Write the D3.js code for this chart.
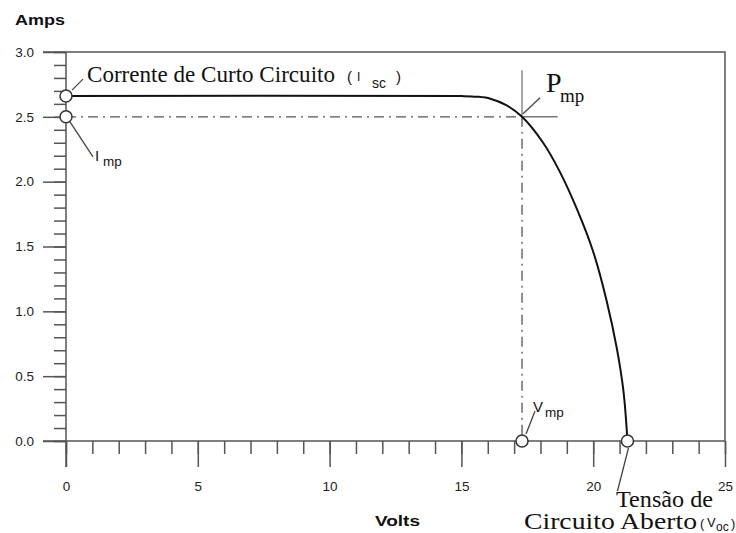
<!DOCTYPE html>
<html><head><meta charset="utf-8">
<script src="https://cdn.jsdelivr.net/npm/d3@7"></script>
<style>body{margin:0;background:#fff}svg{display:block}</style>
</head><body>
<svg id="chart" width="736" height="533"></svg>
<script>
// ---- data ----
const volts = [0, 15.0, 15.6, 16.1, 16.7, 17.3, 18.1, 18.75, 19.4, 20.0, 20.5, 20.9, 21.15, 21.3];
const amps  = [2.66, 2.66, 2.655, 2.64, 2.59, 2.5, 2.30, 2.07, 1.78, 1.46, 1.09, 0.71, 0.38, 0];
const xMajorTicks = [0, 5, 10, 15, 20, 25];
const yMajorTicks = [0.0, 0.5, 1.0, 1.5, 2.0, 2.5, 3.0];
const Isc = 2.66, Imp = 2.5, Vmp = 17.3, Voc = 21.3;

const svg = d3.select("#chart");
const x = d3.scaleLinear().domain([0, 25]).range([66, 725]);
const y = d3.scaleLinear().domain([0, 3]).range([441, 52]);
const axisColor = "#555";
const sans = "'Liberation Sans', Arial, sans-serif";
const serif = "'Liberation Serif', 'Times New Roman', serif";

// frame (top and right)
svg.append("path")
  .attr("d", `M${x(0)-23},${y(3)}H${x(25)}V${y(0)}`)
  .attr("fill", "none").attr("stroke", axisColor).attr("stroke-width", 1.5);

// x axis minor
const xMinor = d3.range(0, 26, 1);
svg.append("g").attr("transform", `translate(0,${y(0)})`)
  .call(d3.axisBottom(x).tickValues(xMinor).tickSize(13).tickFormat(""))
  .call(g => g.select(".domain").remove())
  .selectAll("line").attr("stroke", axisColor).attr("stroke-width", 1.5);
// x axis major
const gx = svg.append("g").attr("transform", `translate(0,${y(0)})`)
  .call(d3.axisBottom(x).tickValues(xMajorTicks).tickSize(26).tickPadding(14).tickFormat(d3.format("d")));
gx.select(".domain").remove();
gx.selectAll("line").attr("stroke", axisColor).attr("stroke-width", 1.5);
gx.selectAll("text").attr("font-family", sans).attr("font-size", 13.5).attr("fill", "#222");

// y axis minor
const yMinor = d3.range(0, 31).map(d => d / 10);
svg.append("g").attr("transform", `translate(${x(0)},0)`)
  .call(d3.axisLeft(y).tickValues(yMinor).tickSize(12).tickFormat(""))
  .call(g => g.select(".domain").remove())
  .selectAll("line").attr("stroke", axisColor).attr("stroke-width", 1.5);
const gy = svg.append("g").attr("transform", `translate(${x(0)},0)`)
  .call(d3.axisLeft(y).tickValues(yMajorTicks).tickSize(23).tickPadding(9).tickFormat(d3.format(".1f")));
gy.select(".domain").remove();
gy.selectAll("line").attr("stroke", axisColor).attr("stroke-width", 1.5);
gy.selectAll("text").attr("font-family", sans).attr("font-size", 13.5).attr("fill", "#222");

// axis lines
svg.append("line").attr("x1", x(0)-23).attr("x2", x(25)).attr("y1", y(0)).attr("y2", y(0))
  .attr("stroke", axisColor).attr("stroke-width", 1.5);
svg.append("line").attr("x1", x(0)).attr("x2", x(0)).attr("y1", y(3)).attr("y2", y(0)+26)
  .attr("stroke", axisColor).attr("stroke-width", 1.5);

// dash-dot reference lines
svg.append("line").attr("x1", x(0)).attr("x2", x(Vmp)).attr("y1", y(Imp)).attr("y2", y(Imp))
  .attr("stroke", "#555").attr("stroke-width", 1.3).attr("stroke-dasharray", "10,5,2,5");
svg.append("line").attr("x1", x(Vmp)).attr("x2", x(Vmp)).attr("y1", y(Imp)).attr("y2", y(0))
  .attr("stroke", "#555").attr("stroke-width", 1.3).attr("stroke-dasharray", "10,5,2,5");
// crosshair at Pmp
svg.append("line").attr("x1", x(Vmp)).attr("x2", x(18.65)).attr("y1", y(Imp)).attr("y2", y(Imp))
  .attr("stroke", "#777").attr("stroke-width", 1.5);
svg.append("line").attr("x1", x(Vmp)).attr("x2", x(Vmp)).attr("y1", y(2.86)).attr("y2", y(Imp))
  .attr("stroke", "#888").attr("stroke-width", 1.5);

// IV curve
const pts = volts.map((v, i) => [v, amps[i]]);
svg.append("path").datum(pts)
  .attr("d", d3.line().x(d => x(d[0])).y(d => y(d[1])).curve(d3.curveCatmullRom.alpha(0.5)))
  .attr("fill", "none").attr("stroke", "#111").attr("stroke-width", 2);

// leaders
const leader = (x1, y1, x2, y2) => svg.append("line")
  .attr("x1", x1).attr("y1", y1).attr("x2", x2).attr("y2", y2)
  .attr("stroke", "#444").attr("stroke-width", 1.3);
leader(x(0)+6, y(Isc)-6, x(0)+17, y(Isc)-17);
leader(x(0)+4, y(Imp)+5, x(0)+27, y(Imp)+40);
leader(x(Vmp)+1, y(Imp)-3, x(Vmp)+18, y(Imp)-19);
leader(x(Vmp)+4, y(0)-7, x(Vmp)+13, y(0)-30);
leader(x(Voc)+1, y(0)+7, x(Voc)-10, y(0)+50);

// circles
[[0, Isc], [0, Imp], [Vmp, 0], [Voc, 0]].forEach(d => {
  svg.append("circle").attr("cx", x(d[0])).attr("cy", y(d[1])).attr("r", 6)
    .attr("fill", "#fff").attr("stroke", "#333").attr("stroke-width", 1.5);
});

// texts
function txt(xp, yp, s, font, size, opts = {}) {
  const t = svg.append("text").attr("x", xp).attr("y", yp).text(s)
    .attr("font-family", font).attr("font-size", size).attr("fill", opts.fill || "#111")
    .attr("font-weight", opts.weight || "normal").attr("text-anchor", opts.anchor || "start");
  if (opts.len) t.attr("textLength", opts.len).attr("lengthAdjust", "spacingAndGlyphs");
  return t;
}
txt(15, 25, "Amps", sans, 15, {weight: "bold", len: 50});
txt(375, 526, "Volts", sans, 15, {weight: "bold", len: 45});

txt(87, 82, "Corrente de Curto Circuito", serif, 22.5, {len: 248});
txt(347, 82, "(", sans, 15);
txt(357, 81, "I", sans, 12);
txt(372, 88, "sc", sans, 14);
txt(396, 82, ")", sans, 15);

txt(95, 161, "I", sans, 15);
txt(103, 166, "mp", sans, 13.5);

txt(546, 92, "P", serif, 28);
txt(560, 102, "mp", serif, 19);

txt(533, 412, "V", sans, 15);
txt(545, 417, "mp", sans, 13.5);

txt(616, 507, "Tensão de", serif, 22.5, {len: 97});
txt(524, 529, "Circuito Aberto", serif, 22.5, {len: 173});
txt(700, 528, "(", sans, 13);
txt(707, 527, "V", sans, 13);
txt(716, 531, "oc", sans, 12);
txt(731, 528, ")", sans, 13);
</script>
</body></html>
